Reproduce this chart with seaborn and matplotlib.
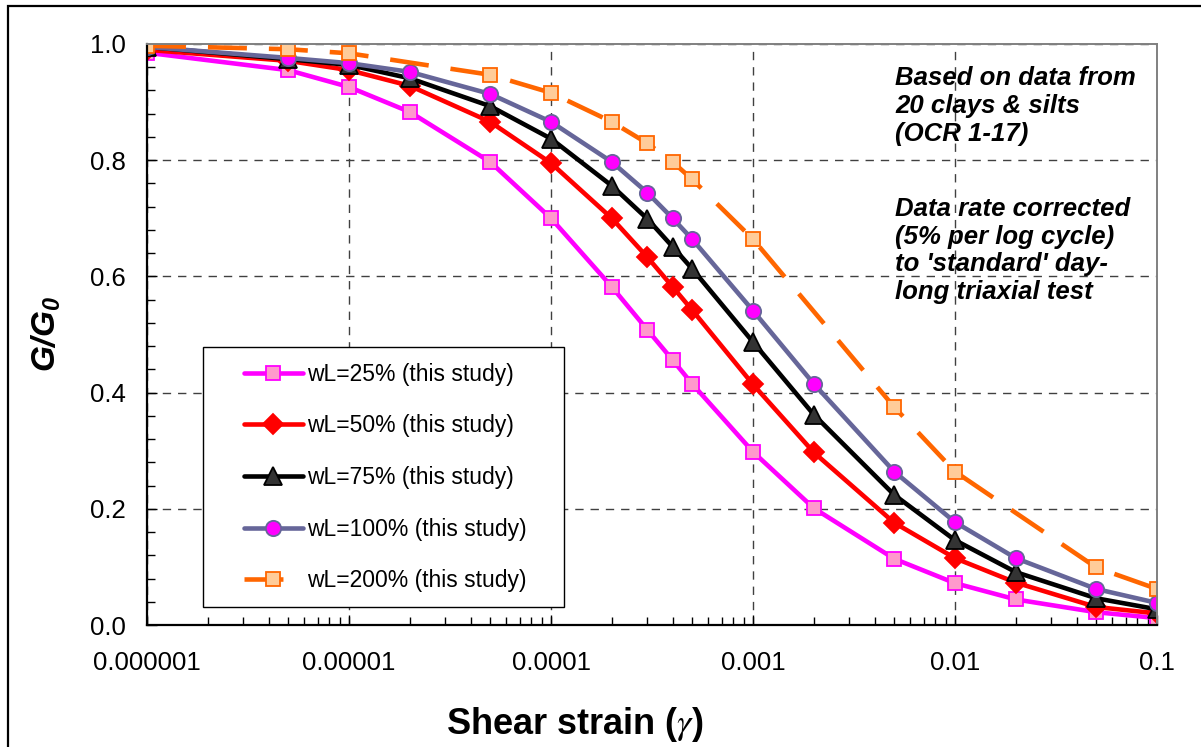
# -*- coding: utf-8 -*-
import numpy as np
import pandas as pd
import matplotlib
matplotlib.use("Agg")
import matplotlib.pyplot as plt
from matplotlib.patches import Rectangle
from matplotlib.ticker import FixedLocator, MultipleLocator, LogLocator, NullFormatter
import seaborn as sns

# Shear strain values (log axis)
strain = [1e-6, 5e-6, 1e-5, 2e-5, 5e-5, 1e-4, 2e-4, 3e-4, 4e-4, 5e-4,
          1e-3, 2e-3, 5e-3, 1e-2, 2e-2, 5e-2, 1e-1]

# G/G0 per liquid limit
wl25 = [0.985, 0.955, 0.926, 0.883, 0.797, 0.700, 0.582, 0.508, 0.456, 0.415,
        0.298, 0.201, 0.114, 0.072, 0.044, 0.022, 0.012]
wl50 = [0.990, 0.971, 0.955, 0.928, 0.866, 0.795, 0.700, 0.633, 0.582, 0.542,
        0.414, 0.297, 0.176, 0.115, 0.073, 0.031, 0.020]
wl75 = [0.995, 0.974, 0.964, 0.941, 0.893, 0.837, 0.756, 0.699, 0.651, 0.613,
        0.487, 0.362, 0.224, 0.146, 0.091, 0.046, 0.027]
wl100 = [0.995, 0.976, 0.967, 0.952, 0.914, 0.866, 0.797, 0.744, 0.700, 0.664,
         0.541, 0.415, 0.264, 0.177, 0.115, 0.062, 0.038]
wl200 = [0.997, 0.991, 0.984, np.nan, 0.947, 0.916, 0.866, 0.829, 0.797, 0.767,
         0.664, np.nan, 0.375, 0.264, np.nan, 0.099, 0.062]

labels = ["wL=25% (this study)", "wL=50% (this study)", "wL=75% (this study)",
          "wL=100% (this study)", "wL=200% (this study)"]
x_tick_labels = ["0.000001", "0.00001", "0.0001", "0.001", "0.01", "0.1"]

styles = [
    dict(color="#ff00ff", marker="s", markerfacecolor="#ff99cc", markeredgecolor="#ff00ff", markersize=10.5),
    dict(color="#ff0000", marker="D", markerfacecolor="#ff0000", markeredgecolor="#ff0000", markersize=10),
    dict(color="#000000", marker="^", markerfacecolor="#333333", markeredgecolor="#000000", markersize=12.5),
    dict(color="#666699", marker="o", markerfacecolor="#ff00ff", markeredgecolor="#666699", markersize=11),
    dict(color="#ff6600", marker="s", markerfacecolor="#ffcc99", markeredgecolor="#ff6600", markersize=10.5,
         dashes=(8.5, 4.8)),
]

sns.set_theme(style="white")
plt.rcParams["font.family"] = ["Liberation Sans", "DejaVu Sans"]
plt.rcParams["text.color"] = "black"
plt.rcParams["axes.labelcolor"] = "black"
plt.rcParams["mathtext.fontset"] = "custom"
plt.rcParams["mathtext.rm"] = "Liberation Sans:bold:italic"
plt.rcParams["mathtext.it"] = "Liberation Sans:bold:italic"
plt.rcParams["mathtext.bf"] = "Liberation Sans:bold:italic"

fig = plt.figure(figsize=(12.01, 7.47), dpi=100)
ax = fig.add_axes([0.1224, 0.1633, 0.8410, 0.7778])

series = [wl25, wl50, wl75, wl100, wl200]
for vals, lab, st in zip(series, labels, styles):
    df = pd.DataFrame({"strain": strain, "ratio": vals}).dropna()
    sns.lineplot(data=df, x="strain", y="ratio", ax=ax, label=lab,
                 linewidth=3.3, markeredgewidth=1.3, errorbar=None, **st)

ax.set_xscale("log")
ax.set_xlim(1e-6, 1e-1)
ax.set_ylim(0, 1.0)

ax.xaxis.set_major_locator(FixedLocator([1e-6, 1e-5, 1e-4, 1e-3, 1e-2, 1e-1]))
ax.set_xticklabels(x_tick_labels)
ax.xaxis.set_minor_locator(LogLocator(base=10, subs=np.arange(2, 10)))
ax.xaxis.set_minor_formatter(NullFormatter())
ax.yaxis.set_minor_locator(MultipleLocator(0.04))
ax.set_yticks([0, 0.2, 0.4, 0.6, 0.8, 1.0])
ax.set_yticklabels(["0.0", "0.2", "0.4", "0.6", "0.8", "1.0"])

ax.tick_params(axis="x", which="both", direction="in", pad=19, labelsize=18.5,
               colors="black", bottom=True)
ax.tick_params(axis="y", which="both", direction="in", pad=15, labelsize=18.5,
               colors="black", left=True)
ax.tick_params(which="major", length=7, width=1)
ax.tick_params(which="minor", length=6, width=1)

ax.grid(True, which="major", color="#404040", linestyle=(0, (6, 5)), linewidth=1.0)
ax.set_axisbelow(True)

for side in ["left", "bottom"]:
    ax.spines[side].set_color("black")
    ax.spines[side].set_linewidth(1.6)
for side in ["top", "right"]:
    ax.spines[side].set_color("#808080")
    ax.spines[side].set_linewidth(1.4)

ax.set_xlabel(r"Shear strain ($\gamma$)", fontsize=26, fontweight="bold",
              math_fontfamily="stix")
ax.xaxis.set_label_coords(0.4238, -0.137)
ax.set_ylabel(r"$G/G_0$", fontsize=24, labelpad=20, math_fontfamily="custom")

# legend entries without frame; frame drawn separately
leg = ax.legend(loc="lower left", bbox_to_anchor=(0.0752, 0.0207), fontsize=16.5,
                frameon=False, labelspacing=1.25, handlelength=2.6,
                handletextpad=0.15, borderpad=0.9, borderaxespad=0, numpoints=1)
ax.add_patch(Rectangle((0.0554, 0.031), 0.4129 - 0.0554, 0.4785 - 0.031,
                       transform=ax.transAxes, facecolor="white",
                       edgecolor="black", linewidth=1.0, zorder=4))
leg.set_zorder(5)

ax.text(0.7406, 0.962, "Based on data from\n20 clays & silts\n(OCR 1-17)",
        transform=ax.transAxes, ha="left", va="top", fontsize=18.5,
        fontweight="bold", fontstyle="italic", linespacing=1.2, color="black")
ax.text(0.7406, 0.737, "Data rate corrected\n(5% per log cycle)\nto 'standard' day-\nlong triaxial test",
        transform=ax.transAxes, ha="left", va="top", fontsize=18.5,
        fontweight="bold", fontstyle="italic", linespacing=1.2, color="black")

# outer chart border (left and top edges visible)
fig.patches.append(Rectangle((8 / 1201, -0.2), 1.5, 1.2 - 6 / 747,
                             transform=fig.transFigure, fill=False,
                             edgecolor="black", linewidth=1.6))

fig.savefig("out.png", dpi=100)
